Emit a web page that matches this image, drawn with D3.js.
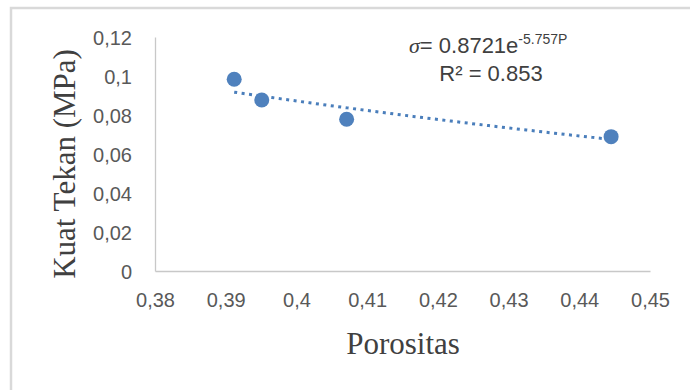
<!DOCTYPE html>
<html>
<head>
<meta charset="utf-8">
<script src="https://cdn.jsdelivr.net/npm/d3@7"></script>
<style>
  body { margin: 0; background: #fff; }
  svg { display: block; }
</style>
</head>
<body>
<div id="chart"></div>
<script>
// porosity vs compressive strength
const porositas = [0.3912, 0.3951, 0.4071, 0.4445];
const kuatTekan = [0.0983, 0.0877, 0.0778, 0.0689];
const xTicks = [0.38, 0.39, 0.40, 0.41, 0.42, 0.43, 0.44, 0.45];
const yTicks = [0, 0.02, 0.04, 0.06, 0.08, 0.10, 0.12];
// exponential trendline shown on the chart: sigma = a * e^(b * P)
const trendA = 0.8721;
const trendB = -5.757;

const width = 690, height = 390;
const margin = { top: 37, left: 155, right: 40, bottom: 119 };

const svg = d3.select('#chart').append('svg')
  .attr('width', width)
  .attr('height', height);

// outer frame
svg.append('rect')
  .attr('x', 11).attr('y', 8)
  .attr('width', 720).attr('height', 420)
  .attr('fill', 'none')
  .attr('stroke', '#d9d9d9')
  .attr('stroke-width', 2.5);

const x = d3.scaleLinear()
  .domain([0.38, 0.45])
  .range([margin.left, width - margin.right]);

const y = d3.scaleLinear()
  .domain([0, 0.12])
  .range([height - margin.bottom, margin.top]);

const locale = d3.formatLocale({ decimal: ',', thousands: '.', grouping: [3], currency: ['', ''] });
const fmt = locale.format('.2~f');

const xAxis = svg.append('g')
  .attr('class', 'axis axis-x')
  .attr('transform', `translate(0, ${y(0)})`)
  .call(d3.axisBottom(x).tickValues(xTicks).tickFormat(fmt).tickSize(0).tickPadding(22));

const yAxis = svg.append('g')
  .attr('class', 'axis axis-y')
  .attr('transform', `translate(${x(0.38)}, 0)`)
  .call(d3.axisLeft(y).tickValues(yTicks).tickFormat(fmt).tickSize(0).tickPadding(23));

svg.selectAll('.axis .domain')
  .attr('stroke', '#c8c8c8')
  .attr('stroke-width', 1.3);

svg.selectAll('.axis text')
  .attr('fill', '#595959')
  .style('font-family', '"Liberation Sans", Arial, sans-serif')
  .style('font-size', '20px');

yAxis.selectAll('text').attr('dy', '0.36em');

// trendline
const [pMin, pMax] = d3.extent(porositas);
const trend = d3.range(0, 41).map(i => {
  const p = pMin + (pMax - pMin) * i / 40;
  return [p, trendA * Math.exp(trendB * p)];
});

svg.append('path')
  .datum(trend)
  .attr('fill', 'none')
  .attr('stroke', '#4a7ebb')
  .attr('stroke-width', 3)
  .attr('stroke-dasharray', '3 4.5')
  .attr('d', d3.line().x(d => x(d[0])).y(d => y(d[1])));

// points
svg.selectAll('circle.pt')
  .data(porositas.map((p, i) => ({ p, k: kuatTekan[i] })))
  .enter().append('circle')
  .attr('class', 'pt')
  .attr('cx', d => x(d.p))
  .attr('cy', d => y(d.k))
  .attr('r', 7.5)
  .attr('fill', '#4f81bd');

// equation label
const eq = svg.append('text')
  .attr('x', 409)
  .attr('y', 53)
  .attr('fill', '#404040')
  .style('font-family', '"Liberation Sans", Arial, sans-serif')
  .style('font-size', '22px');
eq.append('tspan').style('font-style', 'italic').style('font-family', '"Liberation Serif", serif').text('σ');
eq.append('tspan').text('= 0.8721e');
eq.append('tspan').attr('dy', -9).style('font-size', '14px').text('-5.757P');

svg.append('text')
  .attr('x', 491)
  .attr('y', 81)
  .attr('text-anchor', 'middle')
  .attr('fill', '#404040')
  .style('font-family', '"Liberation Sans", Arial, sans-serif')
  .style('font-size', '22px')
  .text('R² = 0.853');

// axis titles
svg.append('text')
  .attr('x', 403)
  .attr('y', 354)
  .attr('text-anchor', 'middle')
  .attr('fill', '#404040')
  .style('font-family', '"Liberation Serif", "Times New Roman", serif')
  .style('font-size', '31px')
  .text('Porositas');

svg.append('text')
  .attr('transform', 'translate(75, 164) rotate(-90)')
  .attr('text-anchor', 'middle')
  .attr('fill', '#404040')
  .style('font-family', '"Liberation Serif", "Times New Roman", serif')
  .style('font-size', '31px')
  .text('Kuat Tekan (MPa)');
</script>
</body>
</html>
